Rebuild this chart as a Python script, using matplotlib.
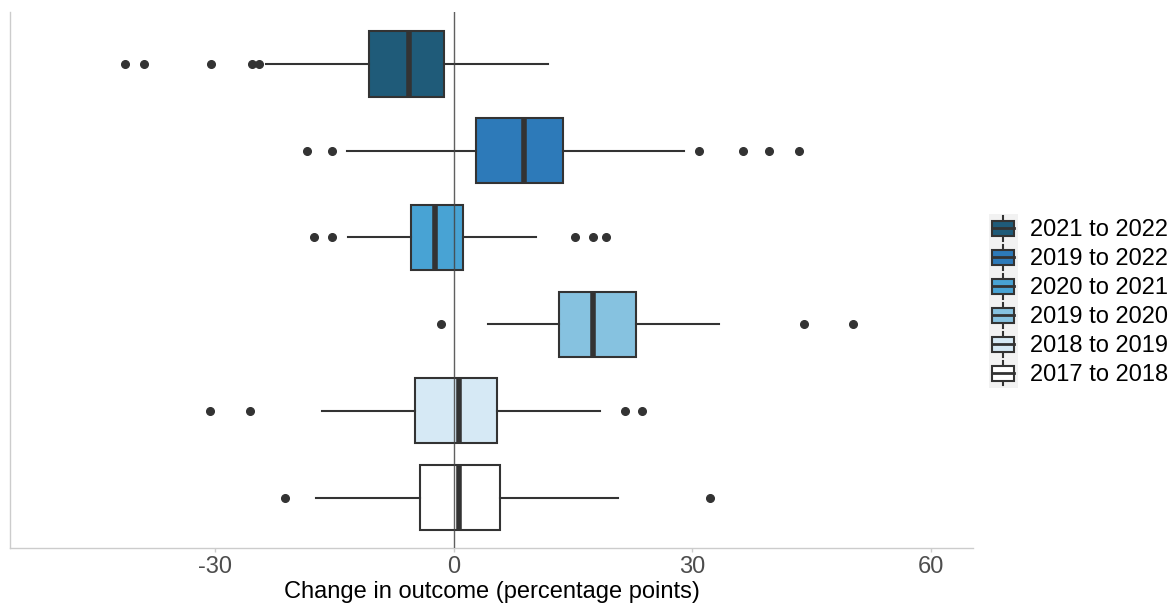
import matplotlib
matplotlib.use("Agg")
import matplotlib.pyplot as plt
from matplotlib.legend_handler import HandlerBase
from matplotlib.patches import Rectangle, Patch
from matplotlib.lines import Line2D

plt.rcParams['font.family'] = ['Liberation Sans', 'DejaVu Sans']

# periods, top to bottom
periods = ["2021 to 2022", "2019 to 2022", "2020 to 2021",
           "2019 to 2020", "2018 to 2019", "2017 to 2018"]
colors = ["#1f5b79", "#2d7ab9", "#48a3d4", "#86c2e0", "#d6e9f5", "#ffffff"]

# box statistics (percentage points)
whislo = [-23.6, -13.4, -13.3, 4.3, -16.6, -17.3]
q1 = [-10.6, 2.8, -5.4, 13.3, -4.9, -4.3]
med = [-5.6, 8.8, -2.4, 17.5, 0.7, 0.7]
q3 = [-1.2, 13.8, 1.2, 22.9, 5.5, 5.8]
whishi = [11.9, 29.0, 10.4, 33.4, 18.4, 20.6]
fliers = [
    [-41.3, -38.9, -30.5, -25.4, -24.5],
    [-18.5, -15.3, 30.8, 36.4, 39.6, 43.4],
    [-17.6, -15.3, 15.2, 17.5, 19.2],
    [-1.6, 44.0, 50.2],
    [-30.7, -25.6, 21.5, 23.7],
    [-21.2, 32.2],
]


class BoxKey(HandlerBase):
    def create_artists(self, legend, orig_handle, xdescent, ydescent,
                       width, height, fontsize, trans):
        x0, y0 = -xdescent, -ydescent
        cx = x0 + width / 2
        cy = y0 + height / 2
        bw = width * 0.75
        bh = height * 0.52
        bg = Rectangle((x0, y0), width, height, facecolor="#f2f2f2",
                       edgecolor="none", transform=trans)
        wl = Line2D([cx, cx], [y0 + 1.5, y0 + height - 1.5], color="#333333", lw=1.5,
                    transform=trans)
        box = Rectangle((cx - bw / 2, cy - bh / 2), bw, bh,
                        facecolor=orig_handle.get_facecolor(), edgecolor="#333333",
                        lw=1.5, transform=trans)
        ml = Line2D([cx - bw / 2, cx + bw / 2], [cy, cy], color="#333333", lw=2, transform=trans)
        return [bg, wl, box, ml]


fig = plt.figure(figsize=(11.73, 6.05), dpi=100)
ax = fig.add_axes([0.0085, 0.0942, 0.821, 0.886])

n = len(periods)
positions = list(range(n, 0, -1))
stats = []
for i in range(n):
    stats.append(dict(med=med[i], q1=q1[i], q3=q3[i], whislo=whislo[i],
                      whishi=whishi[i], fliers=fliers[i], label=periods[i]))

bp = ax.bxp(stats, positions=positions, vert=False, widths=0.75,
            patch_artist=True, showcaps=False,
            boxprops=dict(edgecolor="#333333", linewidth=1.5),
            whiskerprops=dict(color="#333333", linewidth=1.5),
            medianprops=dict(color="#333333", linewidth=4, solid_capstyle="butt"),
            flierprops=dict(marker="o", markerfacecolor="#333333",
                            markeredgecolor="#333333", markersize=5.5))
for patch, c in zip(bp["boxes"], colors):
    patch.set_facecolor(c)

ax.axvline(0, color="#444444", lw=1, alpha=0.85, zorder=5)

ax.set_xlim(-55.8, 65.3)
ax.set_ylim(0.42, 6.6)
ax.set_xticks([-30, 0, 30, 60])
ax.set_xticklabels(["-30", "0", "30", "60"])
ax.set_yticks([])
ax.tick_params(axis="x", colors="#cccccc", labelcolor="#4d4d4d", labelsize=17,
               length=3, width=1, pad=3)
ax.set_xlabel("Change in outcome (percentage points)", fontsize=17, color="black", labelpad=2)
for s in ["top", "right"]:
    ax.spines[s].set_visible(False)
for s in ["left", "bottom"]:
    ax.spines[s].set_color("#cccccc")
    ax.spines[s].set_linewidth(1)

handles = [Patch(facecolor=c) for c in colors]
fig.legend(handles, periods, handler_map={Patch: BoxKey()},
           loc="center left", bbox_to_anchor=(0.843, 0.503), frameon=False,
           fontsize=17, handlelength=1.23, handleheight=1.51, labelspacing=0,
           handletextpad=0.5, borderpad=0, borderaxespad=0)

fig.savefig("out.png", dpi=100)
